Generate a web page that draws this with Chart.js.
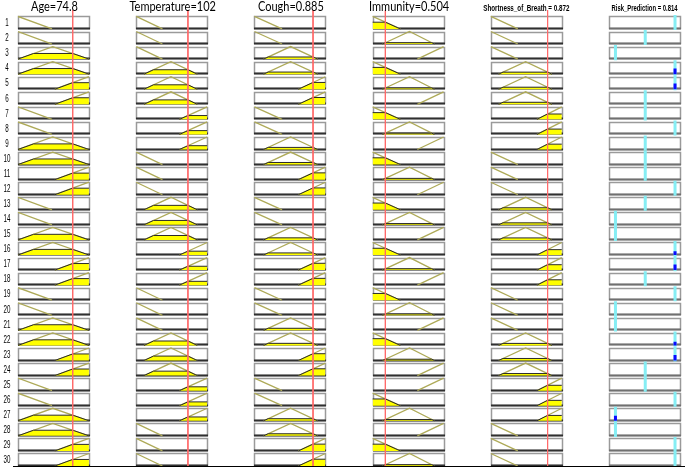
<!DOCTYPE html>
<html>
<head>
<meta charset="utf-8">
<title>Rule viewer</title>
<script src="https://cdn.jsdelivr.net/npm/chart.js@4.4.1/dist/chart.umd.min.js"></script>
<style>
  html, body { margin: 0; padding: 0; background: #fff; }
  canvas { display: block; }
</style>
</head>
<body>
<canvas id="ruleChart" width="685" height="468"></canvas>
<script>
const inputNames = ["Age", "Temperature", "Cough", "Immunity", "Shortness_of_Breath"];
const inputValues = [74.8, 102, 0.885, 0.504, 0.872];
const inputMin = [0, 95, 0.1, 0.4, 0.3];
const inputMax = [97, 104.6, 1.05, 0.98, 1.015];

// membership functions, break points as a fraction of each input range
const lowMF = [[0, 0.48], [0, 0.37], [0, 0.39], [0, 0.39], [0, 0.38]];
const mediumMF = [[0, 0.49, 1], [0.11, 0.49, 0.86], [0.13, 0.51, 0.89], [0.14, 0.52, 0.87], [0.11, 0.49, 0.86]];
const highMF = [[0.52, 1], [0.61, 1], [0.62, 1], [0.63, 1], [0.65, 1]];

// rule antecedents: 1 = low, 2 = medium, 3 = high
const ruleAge =         [1,1,2,2,3,3,1,1,2,2,3,3,1,1,2,2,3,3,1,1,2,2,3,3,1,1,2,2,3,3];
const ruleTemperature = [1,1,1,2,2,2,3,3,3,1,1,1,2,2,2,3,3,3,1,1,1,2,2,2,3,3,3,1,1,1];
const ruleCough =       [1,1,2,2,3,3,1,1,2,2,3,3,1,1,2,2,3,3,1,1,2,2,3,3,1,1,2,2,3,3];
const ruleImmunity =    [1,2,3,1,2,3,1,2,3,1,2,3,1,2,3,1,2,3,1,2,3,1,2,3,3,1,2,3,1,2];
const ruleBreath =      [1,1,1,2,2,2,3,3,3,1,1,1,2,2,2,3,3,3,1,1,1,2,2,2,3,3,3,1,1,1];

// consequent: 1 = low, 2 = medium, 3 = high risk
const ruleRisk =        [3,2,1,3,3,2,2,3,2,2,2,3,2,1,1,3,3,2,3,1,1,3,3,2,2,3,1,1,3,3];
const ruleFiring = [0,0,0,0.45,0.45,0,0,0,0,0,0,0,0,0,0,0.3,0.45,0,0,0,0,0.3,0.45,0,0,0,0.4,0,0,0];
const outputName = "Risk_Prediction";
const outputValue = 0.814;
const outputLevels = [0.09, 0.51, 0.93];

const ruleInputs = [ruleAge, ruleTemperature, ruleCough, ruleImmunity, ruleBreath];
const ROWS = ruleAge.length;
const BOX_W = 0.6;   // box width in column units
const BOX_H = 0.83;  // box height in row units
const OLIVE = "#aeaa58";

function degree(type, i, f) {
  if (type === 1) {
    const [a, b] = lowMF[i];
    return f <= a ? 1 : f >= b ? 0 : (b - f) / (b - a);
  }
  if (type === 2) {
    const [a, b, c] = mediumMF[i];
    if (f <= a || f >= c) return 0;
    return f < b ? (f - a) / (b - a) : (c - f) / (c - b);
  }
  const [a, b] = highMF[i];
  return f <= a ? 0 : f >= b ? 1 : (f - a) / (b - a);
}

function mfLine(type, i) {
  if (type === 1) return [[lowMF[i][0], 1], [lowMF[i][1], 0]];
  if (type === 2) return [[mediumMF[i][0], 0], [mediumMF[i][1], 1], [mediumMF[i][2], 0]];
  return [[highMF[i][0], 0], [highMF[i][1], 1]];
}

// region under the membership function, cut at the degree d
function mfFill(type, i, d) {
  if (type === 1) {
    const [a, b] = lowMF[i];
    return [[a, d], [b - (b - a) * d, d], [b, 0]];
  }
  if (type === 2) {
    const [a, b, c] = mediumMF[i];
    return [[a, 0], [a + (b - a) * d, d], [c - (c - b) * d, d], [c, 0]];
  }
  const [a, b] = highMF[i];
  return [[a, 0], [a + (b - a) * d, d], [b, d]];
}

const datasets = [];

ruleInputs.forEach((rules, i) => {
  const f = (inputValues[i] - inputMin[i]) / (inputMax[i] - inputMin[i]);
  rules.forEach((type, k) => {
    const row = k + 1;
    const toPt = ([u, mu]) => ({ x: i + u * BOX_W, y: row - mu * BOX_H });
    datasets.push({
      data: mfLine(type, i).map(toPt),
      borderColor: OLIVE, borderWidth: 1.3, order: 5
    });
    const d = degree(type, i, f);
    if (d > 0) {
      datasets.push({
        data: mfFill(type, i, d).map(toPt),
        borderColor: "#2a2a2a", borderWidth: 1,
        backgroundColor: "#ffff00", fill: { value: row }, order: 4
      });
    }
  });
  const xv = i + f * BOX_W;
  datasets.push({
    data: [{ x: xv, y: -0.25 }, { x: xv, y: ROWS }],
    borderColor: "#ff6a6a", borderWidth: 1, order: 2
  });
});

ruleRisk.forEach((level, k) => {
  const row = k + 1;
  const xv = 5 + outputLevels[level - 1] * BOX_W;
  datasets.push({
    data: [{ x: xv, y: row + 0.07 }, { x: xv, y: row - 0.93 }],
    borderColor: "#86eef4", borderWidth: 3, order: 3
  });
  if (ruleFiring[k] > 0) {
    datasets.push({
      data: [{ x: xv, y: row }, { x: xv, y: row - ruleFiring[k] * BOX_H }],
      borderColor: "#0a0aff", borderWidth: 3, order: 1
    });
  }
});

datasets.forEach(ds => {
  ds.showLine = true;
  ds.pointRadius = 0;
  ds.tension = 0;
  if (ds.fill === undefined) ds.fill = false;
});

function narrowText(ctx, text, x, y, font, sx) {
  ctx.save();
  ctx.translate(x, y);
  ctx.scale(sx, 1);
  ctx.font = font;
  ctx.textAlign = "center";
  ctx.textBaseline = "alphabetic";
  ctx.fillText(text, 0, 0);
  ctx.restore();
}

const boxPlugin = {
  id: "ruleBoxes",
  beforeDatasetsDraw(chart) {
    const { ctx, scales: { x, y } } = chart;
    ctx.save();
    for (let c = 0; c < 6; c++) {
      const x0 = Math.round(x.getPixelForValue(c)) + 0.5;
      const x1 = Math.round(x.getPixelForValue(c + BOX_W)) + 0.5;
      for (let r = 1; r <= ROWS; r++) {
        const y0 = Math.round(y.getPixelForValue(r - BOX_H)) + 0.5;
        const y1 = Math.round(y.getPixelForValue(r)) - 0.5;
        ctx.fillStyle = "#fff";
        ctx.fillRect(x0, y0, x1 - x0, y1 - y0);
        ctx.strokeStyle = "#9a9a9a";
        ctx.lineWidth = 1.5;
        ctx.strokeRect(x0, y0, x1 - x0, y1 - y0);
        ctx.strokeStyle = c < 5 ? "#303030" : "#707070";
        ctx.lineWidth = 2;
        ctx.beginPath();
        ctx.moveTo(x0 - 0.5, y1);
        ctx.lineTo(x1 + 0.5, y1);
        ctx.stroke();
      }
    }
    ctx.restore();
  },
  afterDraw(chart) {
    const { ctx, scales: { x, y } } = chart;
    ctx.save();
    ctx.fillStyle = "#000";
    // titles
    inputNames.forEach((name, i) => {
      const cx = x.getPixelForValue(i + BOX_W / 2);
      if (i < 4) {
        narrowText(ctx, name + "=" + inputValues[i], cx + 1, 10.5, "12.5px Lato", 0.88);
      } else {
        narrowText(ctx, name + " = " + inputValues[i], cx, 11, "bold 9.5px 'Liberation Sans'", 0.66);
      }
    });
    narrowText(ctx, outputName + " = " + outputValue, x.getPixelForValue(5 + BOX_W / 2), 11,
      "bold 9.5px 'Liberation Sans'", 0.62);
    // rule numbers
    for (let r = 1; r <= ROWS; r++) {
      narrowText(ctx, String(r), 7, y.getPixelForValue(r - BOX_H / 2) + 3.5, "10px 'Liberation Sans'", 0.62);
    }
    // bottom axis line
    const yb = Math.round(y.getPixelForValue(ROWS)) + 0.5;
    ctx.strokeStyle = "#000";
    ctx.lineWidth = 1;
    ctx.beginPath();
    ctx.moveTo(13, yb);
    ctx.lineTo(chart.width, yb);
    ctx.stroke();
    ctx.restore();
  }
};

new Chart(document.getElementById("ruleChart"), {
  type: "scatter",
  data: { datasets },
  options: {
    responsive: false,
    animation: false,
    devicePixelRatio: 1,
    events: [],
    layout: { padding: { left: 18, right: 5, top: 8.6, bottom: 2 } },
    plugins: { legend: { display: false }, tooltip: { enabled: false } },
    scales: {
      x: { type: "linear", min: 0, max: 5 + BOX_W, display: false },
      y: { type: "linear", min: -0.35, max: ROWS, reverse: true, display: false }
    }
  },
  plugins: [boxPlugin]
});
</script>
</body>
</html>
